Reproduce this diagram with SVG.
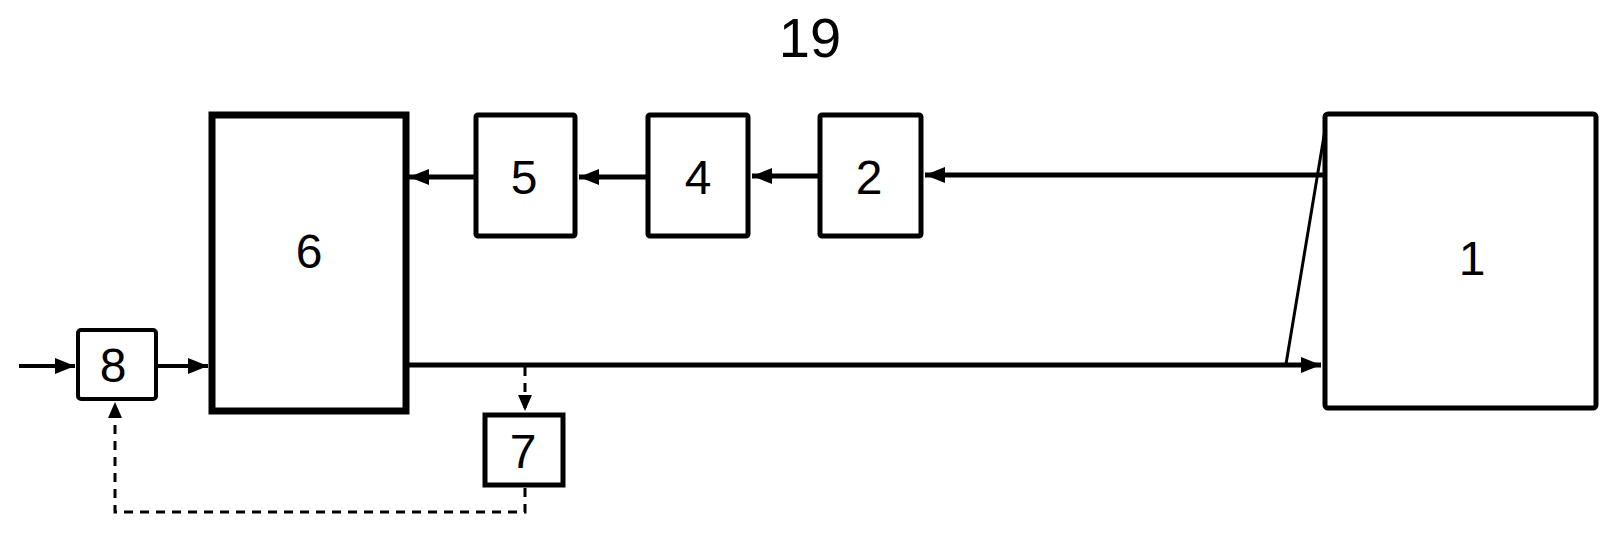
<svg xmlns="http://www.w3.org/2000/svg" width="1615" height="536" viewBox="0 0 1615 536">
<style>
.box{fill:#fff;stroke:#000;stroke-width:5}
.lbl{font-family:"Liberation Sans",Arial,sans-serif;font-size:48px;fill:#000;text-anchor:middle}
.ln{fill:none;stroke:#000;stroke-width:5}
.ds{fill:none;stroke:#000;stroke-width:3;stroke-dasharray:9,7}
</style>
<defs>
<marker id="ah" markerUnits="userSpaceOnUse" markerWidth="22" markerHeight="18" refX="20" refY="9" orient="auto">
<path d="M0,1 L20,9 L0,17 Z" fill="#000"/>
</marker>
<marker id="ahs" markerUnits="userSpaceOnUse" markerWidth="18" markerHeight="16" refX="16" refY="8" orient="auto">
<path d="M0,1 L16,8 L0,15 Z" fill="#000"/>
</marker>
</defs>
<text class="lbl" x="810" y="57" style="font-size:56px">19</text>
<g id="connectors">
<line class="ln" x1="1325" y1="175" x2="925" y2="175" marker-end="url(#ah)"/>
<line class="ln" x1="818" y1="176" x2="752" y2="176" marker-end="url(#ah)"/>
<line class="ln" x1="646" y1="177" x2="579" y2="177" marker-end="url(#ah)"/>
<line class="ln" x1="474" y1="177" x2="409" y2="177" marker-end="url(#ah)"/>
<line class="ln" x1="407" y1="365" x2="1321" y2="365" marker-end="url(#ah)"/>
<line class="ln" x1="1327" y1="118" x2="1286" y2="364" style="stroke-width:3"/>
<line class="ln" x1="19" y1="366" x2="75" y2="366" style="stroke-width:4" marker-end="url(#ah)"/>
<line class="ln" x1="158" y1="366" x2="208" y2="366" style="stroke-width:4" marker-end="url(#ah)"/>
<line class="ds" x1="525" y1="367" x2="525" y2="411" marker-end="url(#ahs)"/>
<polyline class="ds" points="525,488 525,512 115,512 115,402" marker-end="url(#ahs)"/>
</g>
<g id="node6"><rect class="box" x="212" y="115" width="194" height="296" style="stroke-width:7"/><text class="lbl" x="309" y="268">6</text></g>
<g id="node5"><rect class="box" x="476" y="115" width="99" height="121" rx="2"/><text class="lbl" x="524" y="194">5</text></g>
<g id="node4"><rect class="box" x="648" y="115" width="100" height="121" rx="2"/><text class="lbl" x="698" y="194">4</text></g>
<g id="node2"><rect class="box" x="820" y="115" width="101" height="121" rx="2"/><text class="lbl" x="869" y="194">2</text></g>
<g id="node1"><rect class="box" x="1325" y="114" width="271" height="294" rx="3"/><text class="lbl" x="1472" y="275">1</text></g>
<g id="node8"><rect class="box" x="78" y="330" width="78" height="69" rx="3" style="stroke-width:4"/><text class="lbl" x="113" y="382">8</text></g>
<g id="node7"><rect class="box" x="485" y="415" width="78" height="70" style="stroke-width:5"/><text class="lbl" x="523" y="468">7</text></g>
</svg>
